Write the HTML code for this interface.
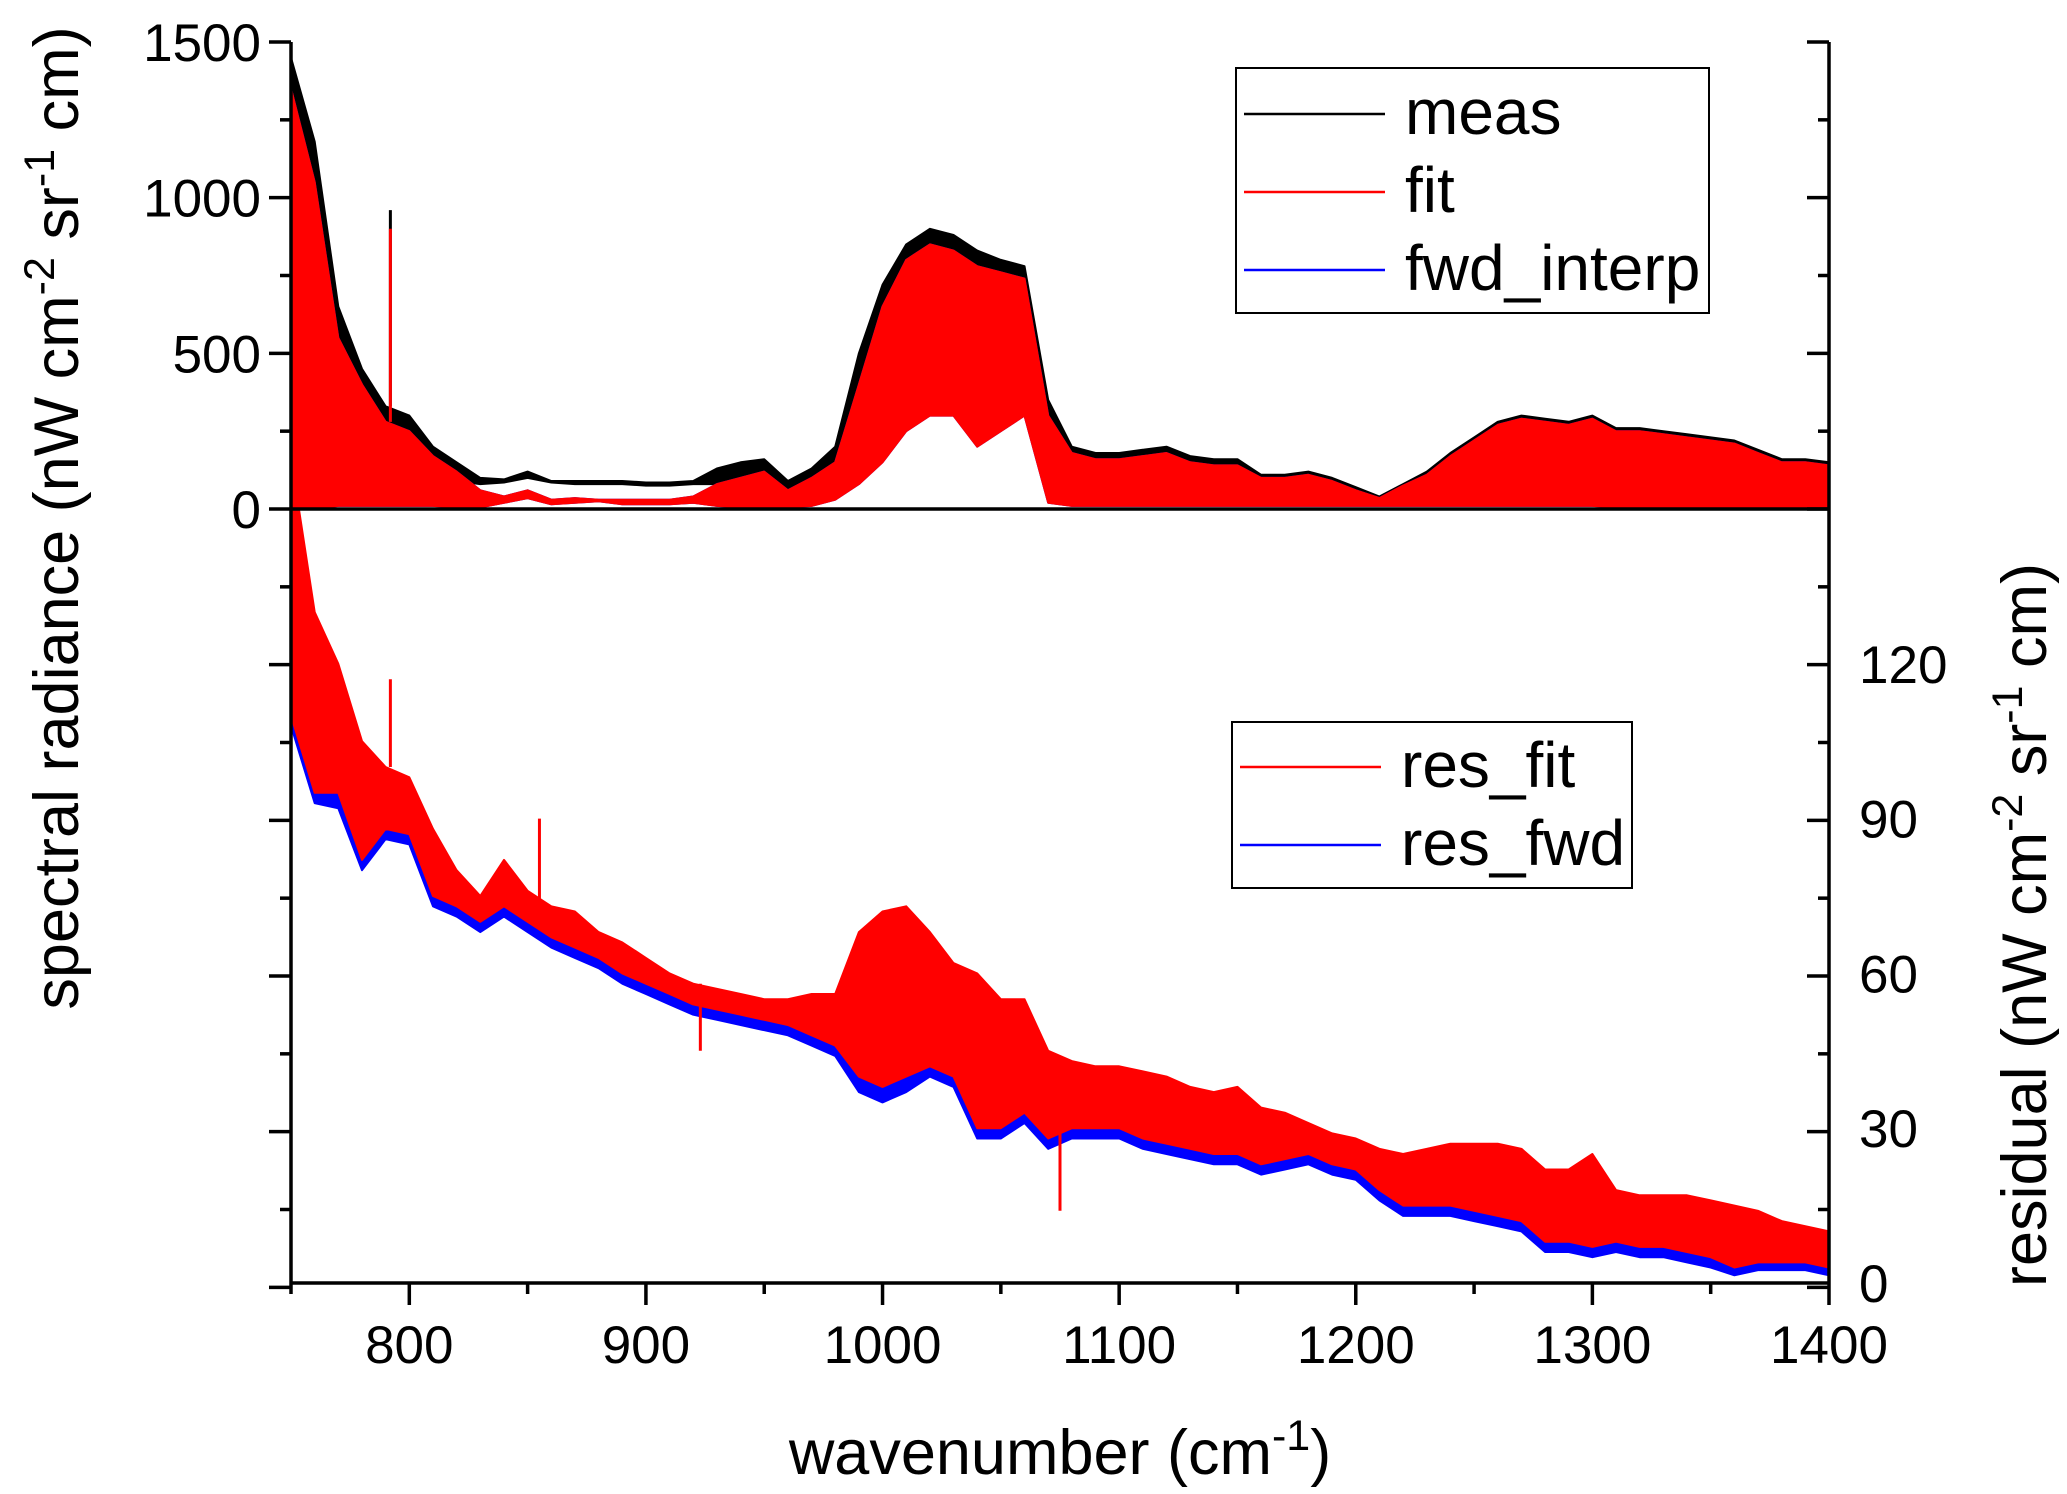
<!DOCTYPE html>
<html><head><meta charset="utf-8"><style>
html,body{margin:0;padding:0;background:#fff;}
svg{display:block;font-family:"Liberation Sans",Arial,sans-serif;}
</style></head><body>
<svg id="chart" width="2067" height="1494" viewBox="0 0 2067 1494" xmlns="http://www.w3.org/2000/svg">
<g id="plot"></g>
<g id="axes"></g>
<text transform="translate(78,518) rotate(-90)" text-anchor="middle" font-size="63">spectral radiance (nW cm<tspan dy="-24" font-size="43">-2</tspan><tspan dy="24"> sr</tspan><tspan dy="-24" font-size="43">-1</tspan><tspan dy="24"> cm)</tspan></text>
<text transform="translate(2046,925) rotate(-90)" text-anchor="middle" font-size="63">residual (nW cm<tspan dy="-24" font-size="43">-2</tspan><tspan dy="24"> sr</tspan><tspan dy="-24" font-size="43">-1</tspan><tspan dy="24"> cm)</tspan></text>
<text x="1060" y="1474" text-anchor="middle" font-size="63">wavenumber (cm<tspan dy="-24" font-size="43">-1</tspan><tspan dy="24">)</tspan></text>
<g>
<rect x="1236" y="68" width="473" height="245" fill="#fff" stroke="#000" stroke-width="2"/>
<line x1="1244" y1="114" x2="1385" y2="114" stroke="#000" stroke-width="2.5"/>
<text x="1405" y="134" font-size="64">meas</text>
<line x1="1244" y1="192" x2="1385" y2="192" stroke="#f00" stroke-width="2.5"/>
<text x="1405" y="212" font-size="64">fit</text>
<line x1="1244" y1="270" x2="1385" y2="270" stroke="#00f" stroke-width="2.5"/>
<text x="1405" y="290" font-size="64">fwd_interp</text>
</g>
<g>
<rect x="1232" y="722" width="400" height="166" fill="#fff" stroke="#000" stroke-width="2"/>
<line x1="1240" y1="767" x2="1381" y2="767" stroke="#f00" stroke-width="2.5"/>
<text x="1401" y="787" font-size="64">res_fit</text>
<line x1="1240" y1="845" x2="1381" y2="845" stroke="#00f" stroke-width="2.5"/>
<text x="1401" y="865" font-size="64">res_fwd</text>
</g>
</svg>
<script>
const wavenumbers = [750,760,770,780,790,800,810,820,830,840,850,860,870,880,890,900,910,920,930,940,950,960,970,980,990,1000,1010,1020,1030,1040,1050,1060,1070,1080,1090,1100,1110,1120,1130,1140,1150,1160,1170,1180,1190,1200,1210,1220,1230,1240,1250,1260,1270,1280,1290,1300,1310,1320,1330,1340,1350,1360,1370,1380,1390,1400];
const measHi = [1450,1180,650,450,330,300,200,150,100,95,120,90,90,90,90,85,85,90,130,150,160,90,130,200,500,720,850,900,880,830,800,780,350,200,180,180,190,200,170,160,160,110,110,120,100,70,40,80,120,180,230,280,300,290,280,300,260,260,250,240,230,220,190,160,160,150];
const measLo = [300,250,200,150,130,110,100,90,80,85,100,85,80,80,80,75,75,80,80,75,70,60,80,120,300,550,720,820,800,700,700,650,170,150,140,140,140,130,120,110,100,70,70,90,70,50,30,40,40,50,60,60,60,60,60,60,20,20,20,20,20,15,15,15,15,10];
const fitHi = [1350,1050,550,400,280,250,170,120,60,40,60,30,35,30,30,30,30,40,80,100,120,60,100,150,400,650,800,850,830,780,760,740,300,180,160,160,170,180,150,140,140,100,100,110,90,60,35,75,110,170,220,270,290,280,270,290,250,250,240,230,220,210,180,150,150,140];
const fitLo = [0,0,10,10,10,10,10,5,5,20,35,15,20,25,15,15,15,20,10,5,5,5,10,30,80,150,250,300,300,200,250,300,20,10,10,10,10,10,10,10,10,10,10,10,10,10,10,10,10,10,10,10,10,10,10,10,5,5,5,5,5,5,5,5,5,5];
const resFitHi = [160,130,120,105,100,98,88,80,75,82,76,73,72,68,66,63,60,58,57,56,55,55,56,56,68,72,73,68,62,60,55,55,45,43,42,42,41,40,38,37,38,34,33,31,29,28,26,25,26,27,27,27,26,22,22,25,18,17,17,17,16,15,14,12,11,10];
const resFitLo = [110,95,95,82,88,87,75,73,70,73,70,67,65,63,60,58,56,54,53,52,51,50,48,46,40,38,40,42,40,30,30,33,28,30,30,30,28,27,26,25,25,23,24,25,23,22,18,15,15,15,14,13,12,8,8,7,8,7,7,6,5,3,4,4,4,3];
const resFwdHi = [158,128,118,103,98,96,86,78,73,80,74,71,70,66,64,61,58,56,55,54,53,53,54,54,66,70,71,66,60,58,53,53,43,41,40,40,39,38,36,35,36,32,31,29,27,26,24,23,24,25,25,25,24,20,20,23,16,15,15,15,14,13,12,10,9,8];
const resFwdLo = [108,93,92,80,86,85,73,71,68,71,68,65,63,61,58,56,54,52,51,50,49,48,46,44,37,35,37,40,38,28,28,31,26,28,28,28,26,25,24,23,23,21,22,23,21,20,16,13,13,13,12,11,10,6,6,5,6,5,5,4,3,1.5,2.5,2.5,2.5,1.5];
const spikeX = [792,855,1075,923];
const spikeMeas = [960,0,0,0];
const spikeFit = [900,0,0,0];
const spikeRes = [117,90,14,45];

const NS='http://www.w3.org/2000/svg';
const X0=291,X1=1829,YTOP=42,Y0=509,YB=1283;
const xs=v=>X0+(v-750)/650*(X1-X0);
const yl=v=>Y0-v*(Y0-YTOP)/1500;
const yr=v=>YB-v*(YB-Y0)/150;
const plot=document.getElementById('plot');
const axes=document.getElementById('axes');
function mk(tag,attrs,parent){const e=document.createElementNS(NS,tag);for(const k in attrs)e.setAttribute(k,attrs[k]);parent.appendChild(e);return e;}
function band(hi,lo,yf,color,name){
  let d='';
  wavenumbers.forEach((w,i)=>{d+=(i?'L':'M')+xs(w).toFixed(1)+','+yf(hi[i]).toFixed(1);});
  for(let i=wavenumbers.length-1;i>=0;i--){d+='L'+xs(wavenumbers[i]).toFixed(1)+','+yf(lo[i]).toFixed(1);}
  const p=mk('path',{d:d+'Z',fill:color,stroke:color,'stroke-width':2,'stroke-linejoin':'round'},plot);
  
  
}
function spikes(vals,yf,base,color,name){
  spikeX.forEach((s,i)=>{ if(!vals[i])return;
    const l=mk('line',{x1:xs(s),x2:xs(s),y1:yf(base(s)),y2:yf(vals[i]),stroke:color,'stroke-width':3},plot);
    
    
  });
}
function baseAt(arr){return s=>{let i=Math.round((s-750)/10);return arr[Math.max(0,Math.min(arr.length-1,i))];};}
band(resFwdHi,resFwdLo,yr,'#0000ff','res-fwd-series');
band(resFitHi,resFitLo,yr,'#ff0000','res-fit-series');
spikes(spikeRes,yr,baseAt(resFitHi),'#ff0000','res-fit-spike');
band(measHi,measLo,yl,'#000000','meas-series');
band(fitHi,fitLo,yl,'#0000ff','fwd-interp-series');
band(fitHi,fitLo,yl,'#ff0000','fit-series');
spikes(spikeMeas,yl,baseAt(measHi),'#000000','meas-spike');
spikes(spikeFit,yl,baseAt(fitHi),'#ff0000','fit-spike');

const zl=mk('line',{x1:X0,x2:X1,y1:Y0,y2:Y0,stroke:'#000','stroke-width':3.5},axes);


const frame=[[X0,YTOP,X0,YB],[X1,YTOP,X1,YB],[X0,YB,X1,YB]];
frame.forEach(f=>{const l=mk('line',{x1:f[0],y1:f[1],x2:f[2],y2:f[3],stroke:'#000','stroke-width':3.5},axes);
  
  });
for(let v=750;v<=1400;v+=50){const major=v%100===0;
  mk('line',{x1:xs(v),x2:xs(v),y1:YB,y2:YB+(major?22:11),stroke:'#000','stroke-width':3.5},axes);
  if(major){const t=mk('text',{x:xs(v),y:YB+80,'text-anchor':'middle','font-size':53},axes);t.textContent=v;
    
    }
}
for(let v=-2500;v<=1500;v+=250){const major=v%500===0;
  mk('line',{x1:X0,x2:X0-(major?22:11),y1:yl(v),y2:yl(v),stroke:'#000','stroke-width':3.5},axes);
  mk('line',{x1:X1,x2:X1-(major?22:11),y1:yl(v),y2:yl(v),stroke:'#000','stroke-width':3.5},axes);
  if(major&&v>=0){const t=mk('text',{x:X0-30,y:yl(v)+19,'text-anchor':'end','font-size':53},axes);t.textContent=v;
    
    }
}
for(let v=0;v<=120;v+=30){const t=mk('text',{x:X1+30,y:yr(v)+19,'text-anchor':'start','font-size':53},axes);t.textContent=v;
  
  }
</script>
</body></html>
